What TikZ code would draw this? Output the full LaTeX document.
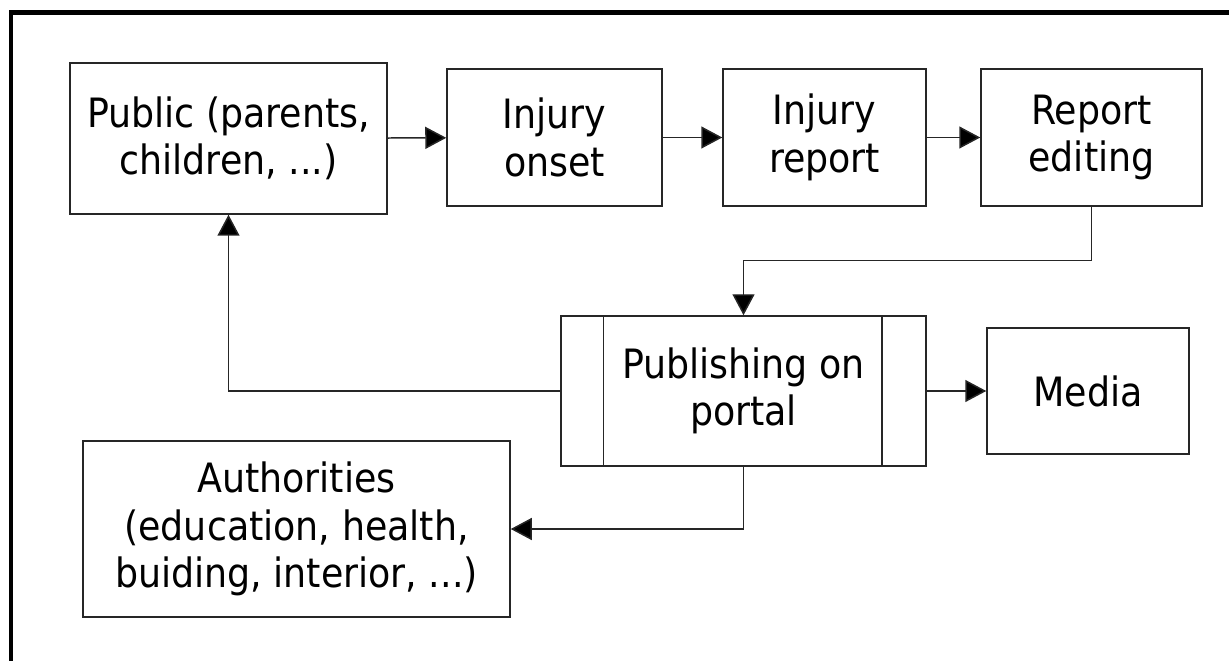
\documentclass[tikz,border=0pt]{standalone}
\usepackage{fontspec}
\setmainfont{DejaVu Sans Condensed}
\usepackage{tikz}
\usetikzlibrary{arrows.meta}

\tikzset{
	blk/.style={draw=black!85, line width=0.85pt, rectangle, inner sep=0pt, align=center, font=\fontsize{23}{27}\selectfont},
	flow/.style={draw=black!85, line width=0.85pt, -{Triangle[length=4.2mm, width=4.4mm, fill=black]}}
}

\begin{document}
\begin{tikzpicture}[x=0.2mm, y=-0.2mm]

				\useasboundingbox (0,0) rectangle (1229,661);
				\draw[line width=2.3pt] (11,670) -- (11,12.5) -- (1240,12.5);

	  			\node[blk, minimum width=6.34cm, minimum height=3.02cm] 	(public)	at (228.5,138.5)	{Public (parents,\\children, ...)};
				\node[blk, minimum width=4.3cm, minimum height=2.74cm] 	(onset)		at (554.5,137.5)	{Injury\\onset};
				\node[blk, minimum width=4.06cm, minimum height=2.74cm] 	(report)	at (824.5,137.5)	{Injury\\report};
				\node[blk, minimum width=4.42cm, minimum height=2.74cm] 	(editing)	at (1091.5,137.5)	{Report\\editing};
				\node[blk, minimum width=7.3cm, minimum height=3.0cm] 	(portal)	at (743.5,391)		{Publishing on\\portal};
				\node[blk, minimum width=4.04cm, minimum height=2.52cm] 	(media)		at (1088,391)		{Media};
				\node[blk, minimum width=8.54cm, minimum height=3.52cm] 	(authorities)	at (296.5,529)	{Authorities\\(education, health,\\buiding, interior, ...)};

				% side bars of the portal box
				\draw[draw=black!85, line width=0.85pt] ([xshift=0.86cm]portal.north west) -- ([xshift=0.86cm]portal.south west);
				\draw[draw=black!85, line width=0.85pt] ([xshift=-0.9cm]portal.north east) -- ([xshift=-0.9cm]portal.south east);

				\path[flow]
				(public) edge (onset)
				(onset) edge (report)
				(report) edge (editing)
				(portal) edge (media);

				\draw[flow] (editing.south) -- ++(0,54) -| (portal.north);
				\draw[flow] (portal.west) -| (public.south);
				\draw[flow] (portal.south) |- (authorities.east);

\end{tikzpicture}
\end{document}
